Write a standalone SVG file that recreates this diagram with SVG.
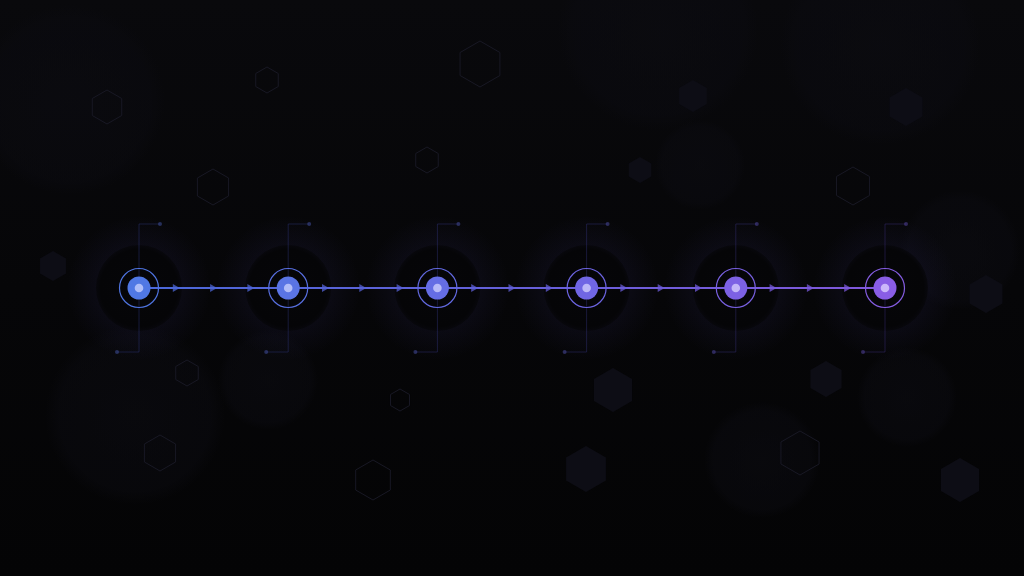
<svg xmlns="http://www.w3.org/2000/svg" xmlns:xlink="http://www.w3.org/1999/xlink" width="1024" height="576" viewBox="0 0 1024 576">
  <defs>
    <linearGradient id="bg" x1="0" y1="0" x2="0" y2="1">
      <stop offset="0" stop-color="#09090c"/>
      <stop offset="0.5" stop-color="#060608"/>
      <stop offset="1" stop-color="#040405"/>
    </linearGradient>
    <radialGradient id="blob">
      <stop offset="0" stop-color="#0c0c12" stop-opacity="0.55"/>
      <stop offset="0.85" stop-color="#0b0b11" stop-opacity="0.45"/>
      <stop offset="1" stop-color="#0b0b11" stop-opacity="0"/>
    </radialGradient>
    <radialGradient id="halo">
      <stop offset="0" stop-color="#6a5fe0" stop-opacity="0.13"/>
      <stop offset="0.6" stop-color="#5a50c8" stop-opacity="0.06"/>
      <stop offset="1" stop-color="#5a50c8" stop-opacity="0"/>
    </radialGradient>
    <radialGradient id="core">
      <stop offset="0" stop-color="#060609"/>
      <stop offset="0.9" stop-color="#050507"/>
      <stop offset="1" stop-color="#050507" stop-opacity="0.6"/>
    </radialGradient>
    <linearGradient id="flow" gradientUnits="userSpaceOnUse" x1="139" y1="0" x2="885" y2="0">
      <stop offset="0" stop-color="#4a68d8"/>
      <stop offset="1" stop-color="#8158dc"/>
    </linearGradient>
    <polygon id="hx" points="0,-1 0.866,-0.5 0.866,0.5 0,1 -0.866,0.5 -0.866,-0.5" vector-effect="non-scaling-stroke"/>
    <polygon id="ah" points="-3.5,-4 3.5,0 -3.5,4"/>
  </defs>
  <style>
    .ho { fill: none; stroke: #181824; stroke-width: 1; }
    .hf { fill: #0d0d15; stroke: none; }
    .blob { fill: url(#blob); }
    .halo { fill: url(#halo); }
    .core { fill: url(#core); }
    .lead { fill: none; stroke-width: 1; opacity: 0.45; }
    .pin { opacity: 0.6; }
    .ring { fill: none; stroke-width: 1.2; }
    .flow { stroke: url(#flow); stroke-width: 2; fill: none; }
    .arr { opacity: 0.75; }
  </style>

  <rect width="1024" height="576" fill="url(#bg)"/>

  <!-- faint background discs -->
  <g id="background">
    <circle class="blob" cx="70" cy="100" r="95"/>
    <circle class="blob" cx="658" cy="30" r="100"/>
    <circle class="blob" cx="880" cy="45" r="100"/>
    <circle class="blob" cx="700" cy="165" r="45"/>
    <circle class="blob" cx="135" cy="415" r="90"/>
    <circle class="blob" cx="268" cy="380" r="50"/>
    <circle class="blob" cx="762" cy="460" r="58"/>
    <circle class="blob" cx="907" cy="397" r="50"/>
    <circle class="blob" cx="960" cy="250" r="60"/>

    <use href="#hx" class="ho" transform="translate(107 107) scale(17)"/>
    <use href="#hx" class="ho" transform="translate(267 80) scale(13)"/>
    <use href="#hx" class="ho" transform="translate(213 187) scale(18)"/>
    <use href="#hx" class="ho" transform="translate(427 160) scale(13)"/>
    <use href="#hx" class="ho" transform="translate(480 64) scale(23)"/>
    <use href="#hx" class="ho" transform="translate(853 186) scale(19)"/>
    <use href="#hx" class="ho" transform="translate(187 373) scale(13)"/>
    <use href="#hx" class="ho" transform="translate(160 453) scale(18)"/>
    <use href="#hx" class="ho" transform="translate(400 400) scale(11)"/>
    <use href="#hx" class="ho" transform="translate(373 480) scale(20)"/>
    <use href="#hx" class="ho" transform="translate(800 453) scale(22)"/>

    <use href="#hx" class="hf" transform="translate(693 96) scale(16)"/>
    <use href="#hx" class="hf" transform="translate(906 107) scale(19)"/>
    <use href="#hx" class="hf" transform="translate(640 170) scale(13)"/>
    <use href="#hx" class="hf" transform="translate(53 266) scale(15)"/>
    <use href="#hx" class="hf" transform="translate(613 390) scale(22)"/>
    <use href="#hx" class="hf" transform="translate(586 469) scale(23)"/>
    <use href="#hx" class="hf" transform="translate(826 379) scale(18)"/>
    <use href="#hx" class="hf" transform="translate(960 480) scale(22)"/>
    <use href="#hx" class="hf" transform="translate(986 294) scale(19)"/>
  </g>

  <!-- halos and dark cores behind the flow -->
  <g id="halos">
    <circle class="halo" cx="139" cy="288" r="72"/>
    <circle class="halo" cx="288.2" cy="288" r="72"/>
    <circle class="halo" cx="437.4" cy="288" r="72"/>
    <circle class="halo" cx="586.6" cy="288" r="72"/>
    <circle class="halo" cx="735.8" cy="288" r="72"/>
    <circle class="halo" cx="885" cy="288" r="72"/>
    <circle class="core" cx="139" cy="288" r="43"/>
    <circle class="core" cx="288.2" cy="288" r="43"/>
    <circle class="core" cx="437.4" cy="288" r="43"/>
    <circle class="core" cx="586.6" cy="288" r="43"/>
    <circle class="core" cx="735.8" cy="288" r="43"/>
    <circle class="core" cx="885" cy="288" r="43"/>
  </g>

  <!-- connectors -->
  <g id="connectors">
    <line class="flow" x1="139" y1="288" x2="885" y2="288"/>
    <g class="arr">
      <use href="#ah" fill="#4b66d4" x="176.3" y="288"/>
      <use href="#ah" fill="#4c65d4" x="213.6" y="288"/>
      <use href="#ah" fill="#4d64d4" x="250.9" y="288"/>
      <use href="#ah" fill="#5362d4" x="325.5" y="288"/>
      <use href="#ah" fill="#5561d4" x="362.8" y="288"/>
      <use href="#ah" fill="#5760d4" x="400.1" y="288"/>
      <use href="#ah" fill="#5d5fd6" x="474.7" y="288"/>
      <use href="#ah" fill="#605ed6" x="512" y="288"/>
      <use href="#ah" fill="#635dd6" x="549.3" y="288"/>
      <use href="#ah" fill="#695cd8" x="623.9" y="288"/>
      <use href="#ah" fill="#6c5bd8" x="661.2" y="288"/>
      <use href="#ah" fill="#6f5ad8" x="698.5" y="288"/>
      <use href="#ah" fill="#7559da" x="773.1" y="288"/>
      <use href="#ah" fill="#7858da" x="810.4" y="288"/>
      <use href="#ah" fill="#7b58da" x="847.7" y="288"/>
    </g>
  </g>

  <!-- nodes -->
  <g id="node-1" transform="translate(139 288)">
    <polyline class="lead" stroke="#2c3878" points="21,-64 0,-64 0,64 -22,64"/>
    <circle class="pin" cx="21" cy="-64" r="2" fill="#3a4a90"/>
    <circle class="pin" cx="-22" cy="64" r="2" fill="#3a4a90"/>
    <circle class="ring" r="19.5" stroke="#4f74e0"/>
    <circle r="11.5" fill="#5078e4"/>
    <circle r="4.3" fill="#aebdf8"/>
  </g>
  <g id="node-2" transform="translate(288.2 288)">
    <polyline class="lead" stroke="#2e3678" points="21,-64 0,-64 0,64 -22,64"/>
    <circle class="pin" cx="21" cy="-64" r="2" fill="#3c4890"/>
    <circle class="pin" cx="-22" cy="64" r="2" fill="#3c4890"/>
    <circle class="ring" r="19.5" stroke="#586fe0"/>
    <circle r="11.5" fill="#5a74e4"/>
    <circle r="4.3" fill="#b2bcf8"/>
  </g>
  <g id="node-3" transform="translate(437.4 288)">
    <polyline class="lead" stroke="#303478" points="21,-64 0,-64 0,64 -22,64"/>
    <circle class="pin" cx="21" cy="-64" r="2" fill="#404690"/>
    <circle class="pin" cx="-22" cy="64" r="2" fill="#404690"/>
    <circle class="ring" r="19.5" stroke="#6269e0"/>
    <circle r="11.5" fill="#656de4"/>
    <circle r="4.3" fill="#b8baf8"/>
  </g>
  <g id="node-4" transform="translate(586.6 288)">
    <polyline class="lead" stroke="#343278" points="21,-64 0,-64 0,64 -22,64"/>
    <circle class="pin" cx="21" cy="-64" r="2" fill="#444490"/>
    <circle class="pin" cx="-22" cy="64" r="2" fill="#444490"/>
    <circle class="ring" r="19.5" stroke="#6c64e0"/>
    <circle r="11.5" fill="#7066e4"/>
    <circle r="4.3" fill="#bdb8f8"/>
  </g>
  <g id="node-5" transform="translate(735.8 288)">
    <polyline class="lead" stroke="#383078" points="21,-64 0,-64 0,64 -22,64"/>
    <circle class="pin" cx="21" cy="-64" r="2" fill="#484090"/>
    <circle class="pin" cx="-22" cy="64" r="2" fill="#484090"/>
    <circle class="ring" r="19.5" stroke="#7860e0"/>
    <circle r="11.5" fill="#7c61e4"/>
    <circle r="4.3" fill="#c3b6f8"/>
  </g>
  <g id="node-6" transform="translate(885 288)">
    <polyline class="lead" stroke="#3c2e78" points="21,-64 0,-64 0,64 -22,64"/>
    <circle class="pin" cx="21" cy="-64" r="2" fill="#4c3e90"/>
    <circle class="pin" cx="-22" cy="64" r="2" fill="#4c3e90"/>
    <circle class="ring" r="19.5" stroke="#845ce0"/>
    <circle r="11.5" fill="#895de6"/>
    <circle r="4.3" fill="#cbb6fa"/>
  </g>
</svg>
